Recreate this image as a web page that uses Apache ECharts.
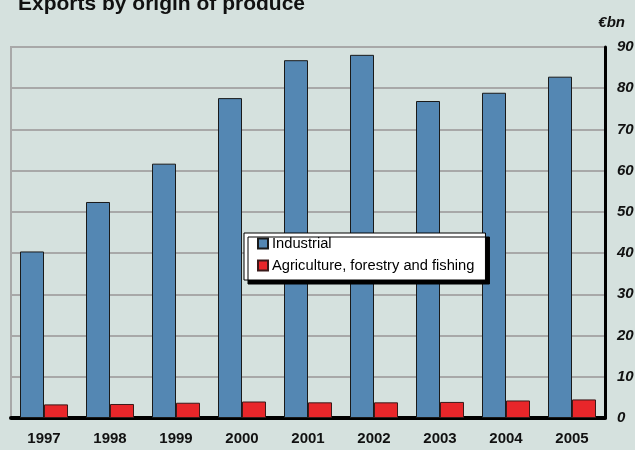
<!DOCTYPE html>
<html>
<head>
<meta charset="utf-8">
<script src="https://cdn.jsdelivr.net/npm/echarts@6/dist/echarts.min.js"></script>
<style>
html,body{margin:0;padding:0;background:#d5e1de;}
#c{width:635px;height:450px;}
</style>
</head>
<body>
<div id="c"></div>
<script>
const years = ['1997','1998','1999','2000','2001','2002','2003','2004','2005'];
const industrial = [40.4, 52.4, 61.7, 77.6, 86.8, 88.1, 76.9, 78.9, 82.8];
const agriculture = [3.3, 3.4, 3.7, 4.0, 3.8, 3.8, 3.9, 4.25, 4.5];
const yTicks = [0, 10, 20, 30, 40, 50, 60, 70, 80, 90];
const seriesNames = ['Industrial', 'Agriculture, forestry and fishing'];

const chart = echarts.init(document.getElementById('c'));
const font = 'Liberation Sans, Arial, sans-serif';
chart.setOption({
  backgroundColor: '#d5e1de',
  animation: false,
  title: [
    { text: 'Exports by origin of produce', left: 13, top: -11,
      textStyle: { fontFamily: font, fontSize: 21, fontWeight: 'bold', color: '#111' } },
    { text: '€bn', right: 5, top: 10,
      textStyle: { fontFamily: font, fontSize: 15, fontWeight: 'bold', fontStyle: 'italic', color: '#111' } }
  ],
  grid: { left: 11, right: 30, top: 47, bottom: 32, show: true, borderColor: '#a8a8a8', borderWidth: 2,
    backgroundColor: 'transparent', containLabel: false, outerBoundsMode: 'none' },
  legend: {
    orient: 'vertical', left: 244, top: 233,
    data: seriesNames,
    backgroundColor: '#ffffff', borderColor: '#000', borderWidth: 1,
    shadowColor: '#000', shadowBlur: 0, shadowOffsetX: 4, shadowOffsetY: 4,
    padding: [3, 11, 7, 13], itemGap: 7, itemWidth: 10, itemHeight: 10,
    icon: 'rect',
    textStyle: { fontFamily: font, fontSize: 14.7, color: '#000', padding: [0, 0, 0, -1] }
  },
  xAxis: {
    type: 'category', data: years,
    axisLine: { show: true, lineStyle: { color: '#000', width: 4 } },
    axisTick: { show: false },
    axisLabel: { fontFamily: font, fontSize: 15, fontWeight: 'bold', color: '#111', margin: 13 }
  },
  yAxis: {
    type: 'value', position: 'right', min: 0, max: 90, interval: 10,
    axisLine: { show: true, lineStyle: { color: '#000', width: 3 } },
    axisTick: { show: false },
    splitLine: { show: true, lineStyle: { color: '#a8a8a8', width: 2 } },
    axisLabel: { fontFamily: font, fontSize: 15, fontWeight: 'bold', fontStyle: 'italic', color: '#111', margin: 12,
      formatter: v => yTicks.includes(v) ? String(v) : '' }
  },
  series: [
    { name: seriesNames[0], type: 'bar', data: industrial, barWidth: 24, barGap: '0%',
      itemStyle: { color: '#5487b3', borderColor: '#1a1a1a', borderWidth: 1 } },
    { name: seriesNames[1], type: 'bar', data: agriculture, barWidth: 24, barGap: '0%',
      itemStyle: { color: '#e8262a', borderColor: '#3a1a1a', borderWidth: 1 } }
  ]
});
</script>
</body>
</html>
